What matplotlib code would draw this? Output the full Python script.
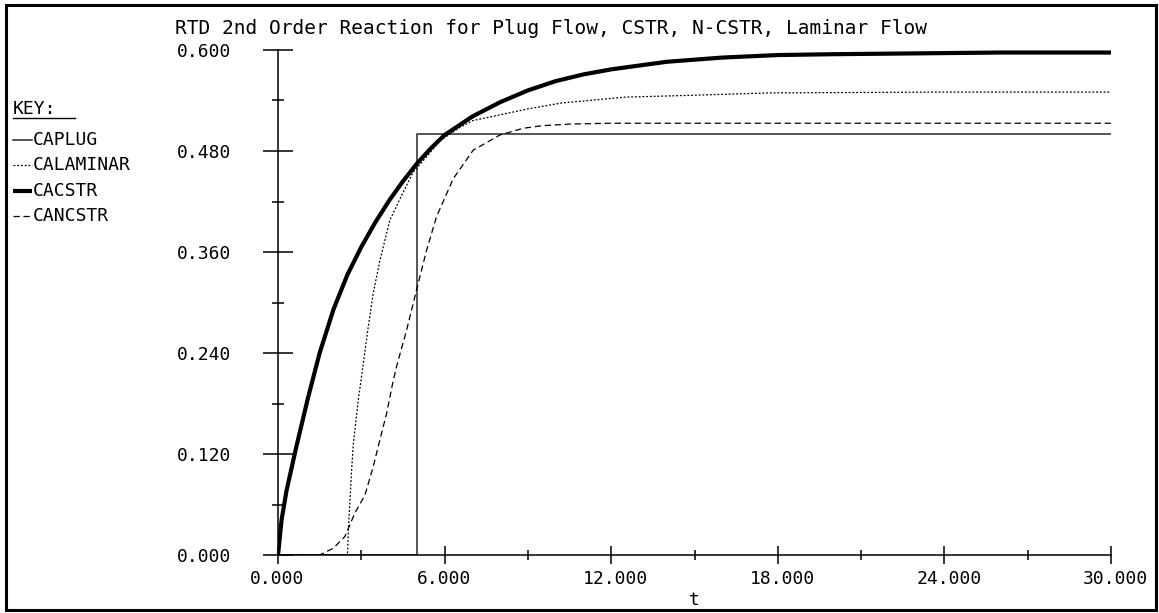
import matplotlib
matplotlib.use('Agg')
import matplotlib.pyplot as plt
from matplotlib.lines import Line2D
from matplotlib.patches import Rectangle
from matplotlib.transforms import ScaledTranslation

plt.rcParams['font.family'] = ['DejaVu Sans Mono']

# values
series_names = ['CAPLUG', 'CALAMINAR', 'CACSTR', 'CANCSTR']

t_plug = [0.0, 5.0, 5.0, 30.0]
ca_plug = [0.0, 0.0, 0.5, 0.5]

t_laminar = [0.0, 2.45, 2.5, 2.55, 2.65, 2.71, 2.89, 3.0, 3.25, 3.43, 3.67, 4.03,
             4.45, 4.87, 5.35, 5.83, 6.5, 7.0, 8.0, 9.0, 10.2, 12.5, 14.7, 17.7, 23.8, 30.0]
ca_laminar = [0.0, 0.0, 0.0, 0.04, 0.10, 0.131, 0.184, 0.21, 0.271, 0.311, 0.35, 0.398,
              0.427, 0.455, 0.473, 0.492, 0.507, 0.516, 0.523, 0.530, 0.537, 0.544, 0.546,
              0.549, 0.550, 0.550]

t_cstr = [0.0, 0.13, 0.31, 0.67, 1.09, 1.5, 2.0, 2.5, 3.0, 3.5, 4.0, 4.5, 5.0, 5.5, 6.0,
          7.0, 8.0, 9.0, 10.0, 11.0, 12.0, 14.0, 16.0, 18.0, 20.0, 23.0, 26.0, 30.0]
ca_cstr = [0.0, 0.042, 0.077, 0.130, 0.188, 0.240, 0.292, 0.333, 0.366, 0.395, 0.421,
           0.444, 0.465, 0.483, 0.499, 0.521, 0.538, 0.552, 0.563, 0.571, 0.577, 0.586,
           0.591, 0.594, 0.595, 0.596, 0.597, 0.597]

t_ncstr = [0.0, 1.5, 1.99, 2.41, 2.77, 3.13, 3.43, 3.67, 3.91, 4.13, 4.27, 4.63, 4.99,
           5.35, 5.71, 6.31, 7.03, 7.99, 8.83, 9.5, 10.5, 12.0, 30.0]
ca_ncstr = [0.0, 0.0, 0.008, 0.022, 0.05, 0.071, 0.105, 0.137, 0.168, 0.204, 0.224, 0.267,
            0.315, 0.362, 0.402, 0.447, 0.481, 0.499, 0.507, 0.510, 0.512, 0.513, 0.513]

x_major = [0, 6, 12, 18, 24, 30]
x_minor = [3, 9, 15, 21, 27]
y_major = [0.0, 0.12, 0.24, 0.36, 0.48, 0.60]
y_minor = [0.06, 0.18, 0.30, 0.42, 0.54]

W, H = 1159, 613
fig = plt.figure(figsize=(W / 100, H / 100), dpi=100)
fig.patch.set_facecolor('white')

ax = fig.add_axes([278 / W, (H - 555) / H, 833 / W, 505 / H])
ax.set_facecolor('none')

styles = [
    dict(color='#3a3a3a', linewidth=1.2, linestyle='-'),
    dict(color='black', linewidth=0.9, linestyle=(0, (1.5, 1.5))),
    dict(color='black', linewidth=3.0, linestyle='-', solid_capstyle='butt'),
    dict(color='black', linewidth=0.9, linestyle=(0, (5, 3))),
]
data = [(t_plug, ca_plug), (t_laminar, ca_laminar), (t_cstr, ca_cstr), (t_ncstr, ca_ncstr)]
for (t, ca), st in zip(data, styles):
    ax.plot(t, ca, **st)

ax.set_xlim(0, 30)
ax.set_ylim(0, 0.6)
for side in ['top', 'right']:
    ax.spines[side].set_visible(False)
for side in ['left', 'bottom']:
    ax.spines[side].set_linewidth(1.1)

ax.set_xticks(x_major)
ax.set_xticks(x_minor, minor=True)
ax.set_yticks(y_major)
ax.set_yticks(y_minor, minor=True)
ax.set_xticklabels([f'{v:.3f}' for v in x_major], ha='left')
ax.set_yticklabels([f'{v:.3f}' for v in y_major])

ax.tick_params(axis='y', which='major', direction='inout', length=21.6, width=1.1,
               pad=23, labelsize=13)
ax.tick_params(axis='y', which='minor', direction='inout', length=8.6, width=1.1)
ax.tick_params(axis='x', which='major', direction='inout', length=13, width=1.1,
               pad=4, labelsize=13)
ax.tick_params(axis='x', which='minor', direction='inout', length=7.2, width=1.1)

shift = ScaledTranslation(-28 / 100, 0, fig.dpi_scale_trans)
for lab in ax.get_xticklabels():
    lab.set_transform(lab.get_transform() + shift)
    lab.set_clip_on(False)

ax.set_xlabel('t', fontsize=13, va='center')
ax.xaxis.set_label_coords(0.5, -0.089)

# overlay in pixel coordinates for title, key and frame
ov = fig.add_axes([0, 0, 1, 1], zorder=-1)
ov.set_xlim(0, W)
ov.set_ylim(H, 0)
ov.axis('off')

ov.add_patch(Rectangle((6, 5), W - 9, H - 8, fill=False, edgecolor='black', linewidth=2.2))

ov.text(551, 28, 'RTD 2nd Order Reaction for Plug Flow, CSTR, N-CSTR, Laminar Flow',
        ha='center', va='center', fontsize=14)

ov.text(13, 109, 'KEY:', ha='left', va='center', fontsize=13)
ov.plot([13, 75], [117.7, 117.7], color='black', linewidth=1.0)
for i, (name, st) in enumerate(zip(series_names, styles)):
    yy = 140 + i * 25.3
    ov.add_line(Line2D([13, 32], [yy, yy], **st))
    ov.text(33, yy, name, ha='left', va='center', fontsize=13)

fig.savefig('out.png', dpi=100)
